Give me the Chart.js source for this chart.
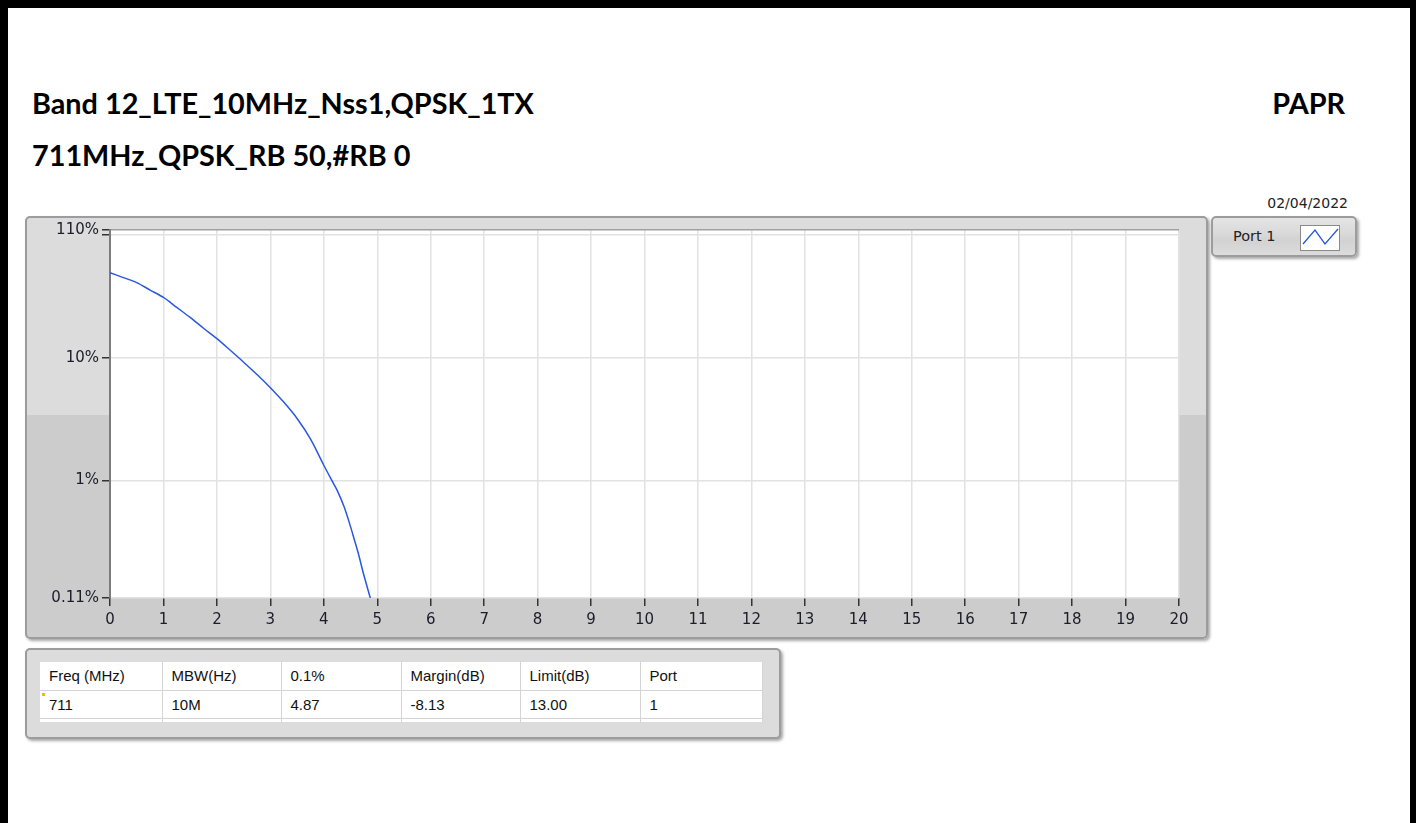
<!DOCTYPE html>
<html>
<head>
<meta charset="utf-8">
<script src="https://cdn.jsdelivr.net/npm/chart.js@4.4.0/dist/chart.umd.min.js"></script>
<style>
  body { margin: 0; background: #fff; width: 1416px; height: 823px; overflow: hidden; position: relative; }
  .edge { position: absolute; left: 0; top: 0; height: 823px; border-left: 8px solid #000; border-top: 8px solid #000; border-right: 6px solid #000; box-sizing: border-box; width: 1416px; }
  .title { position: absolute; left: 32px; font-family: Lato, sans-serif; font-weight: bold; font-size: 28.8px; color: #000; white-space: nowrap; line-height: 30px; }
  .date { position: absolute; right: 68px; top: 195px; font-family: "DejaVu Sans", sans-serif; font-size: 14px; color: #222; }
  .frame { position: absolute; border: 2px solid #9c9c9c; border-radius: 5px; box-shadow: 2px 2px 3px #a8a8a8; box-sizing: border-box; }
  #graph { left: 25px; top: 216px; width: 1183px; height: 423px;
           background: linear-gradient(to bottom, #dcdcdc 0, #dcdcdc 197px, #cccccc 197px, #cccccc 100%); }
  #graph .wrap { position: absolute; left: 0; top: 0; width: 1179px; height: 419px; }
  #legend { left: 1211px; top: 216px; width: 146px; height: 41px;
            background: linear-gradient(to bottom, #e4e4e4 0, #dadada 40%, #d2d2d2 60%, #dcdcdc 100%); }
  #legend .lab { position: absolute; left: 20px; top: 10px; font-family: "DejaVu Sans", sans-serif; font-size: 14.5px; color: #222; }
  #legend svg { position: absolute; left: 87px; top: 7px; }
  #tbox { left: 25px; top: 648px; width: 756px; height: 91px; background: #dcdcdc; }
  table { position: absolute; left: 13px; top: 12px; border-collapse: collapse; background: #fff; font-family: "Liberation Sans", sans-serif; font-size: 15px; color: #111; }
  td { height: 28px; padding: 0 0 0 9px; border-right: 1px solid #d4d4d4; border-bottom: 1px solid #d4d4d4; box-sizing: border-box; }
  tr.stub td { height: 4px; border-bottom: none; }
  .mark { position: absolute; left: 2px; top: 2px; width: 3px; height: 3px; background: #e8c000; }
</style>
</head>
<body>
<div class="edge"></div>
<div class="title" id="t1" style="top:88px"></div>
<div class="title" id="t2" style="top:140px"></div>
<div class="title" id="t3" style="top:88px; left:auto; right:71px"></div>
<div class="date" id="date"></div>

<div class="frame" id="graph"><div class="wrap"><canvas id="papr"></canvas></div></div>

<div class="frame" id="legend">
  <div class="lab" id="legLab"></div>
  <svg width="40" height="26"><rect x="0.5" y="0.5" width="39" height="25" fill="#fff" stroke="#8a8a8a"/>
    <polyline points="3,19 15,5 25,19 38,4" fill="none" stroke="#2858e0" stroke-width="1.3"/></svg>
</div>

<div class="frame" id="tbox"><table id="tbl"></table></div>

<script>
// titles
var title1 = "Band 12_LTE_10MHz_Nss1,QPSK_1TX";
var title2 = "711MHz_QPSK_RB 50,#RB 0";
var title3 = "PAPR";
var dateText = "02/04/2022";

// CCDF curve, Port 1 (x in dB, y in %)
var ccdfX = [0, 0.25, 0.5, 0.75, 1, 1.25, 1.5, 1.75, 2, 2.25, 2.5, 2.75, 3, 3.25, 3.5, 3.75, 4, 4.15, 4.25, 4.38, 4.5, 4.57, 4.65, 4.74, 4.87];
var ccdfY = [49.4, 45.0, 41.0, 35.6, 31.0, 25.7, 21.3, 17.4, 14.3, 11.5, 9.2, 7.3, 5.7, 4.35, 3.2, 2.18, 1.33, 1.0, 0.83, 0.61, 0.42, 0.33, 0.25, 0.175, 0.11];

// axes
var xTicks = [0, 1, 2, 3, 4, 5, 6, 7, 8, 9, 10, 11, 12, 13, 14, 15, 16, 17, 18, 19, 20];
var yTicks = [0.11, 1, 10, 100, 110];
var yTickLabels = ["0.11%", "1%", "10%", "", "110%"];

// result table
var tableHead = ["Freq (MHz)", "MBW(Hz)", "0.1%", "Margin(dB)", "Limit(dB)", "Port"];
var tableRow = ["711", "10M", "4.87", "-8.13", "13.00", "1"];
var colWidths = [122, 119, 120, 119, 120, 122];

document.getElementById("t1").textContent = title1;
document.getElementById("t2").textContent = title2;
document.getElementById("t3").textContent = title3;
document.getElementById("date").textContent = dateText;
document.getElementById("legLab").textContent = "Port 1";

// table
var tbl = document.getElementById("tbl");
function addRow(cells, cls) {
    var tr = document.createElement("tr");
    if (cls) tr.className = cls;
    cells.forEach(function (c, i) {
        var td = document.createElement("td");
        td.style.width = colWidths[i] + "px";
        td.textContent = c;
        tr.appendChild(td);
    });
    tbl.appendChild(tr);
    return tr;
}
addRow(tableHead);
var r = addRow(tableRow);
r.firstChild.style.position = "relative";
var mk = document.createElement("div");
mk.className = "mark";
r.firstChild.appendChild(mk);
addRow(["", "", "", "", "", ""], "stub");

// white plot area
var plotBg = {
    id: "plotBg",
    beforeDraw: function (chart) {
        var a = chart.chartArea;
        chart.ctx.save();
        chart.ctx.fillStyle = "#fff";
        chart.ctx.fillRect(a.left, a.top, a.right - a.left, a.bottom - a.top);
        chart.ctx.restore();
    }
};

var tickFont = { family: "DejaVu Sans", size: 15 };

new Chart("papr", {
    type: "line",
    data: {
        datasets: [
            {
                label: "Port 1",
                data: ccdfX.map(function (x, i) { return { x: x, y: ccdfY[i] }; }),
                borderColor: "#2858e0",
                borderWidth: 1.5,
                pointRadius: 0,
                tension: 0.3,
                fill: false,
            },
        ],
    },
    options: {
        responsive: true,
        maintainAspectRatio: false,
        animation: false,
        layout: { padding: { left: 0, top: 11, right: 27, bottom: 0 } },
        plugins: { legend: { display: false }, tooltip: { enabled: false } },
        scales: {
            x: {
                type: "linear",
                min: 0,
                max: 20,
                afterBuildTicks: function (s) { s.ticks = xTicks.map(function (v) { return { value: v }; }); },
                afterFit: function (s) { s.height = 39; },
                grid: { color: "#e2e2e2", lineWidth: 1.5, tickColor: "#333", tickLength: 8, tickWidth: 1.5 },
                border: { display: false },
                ticks: { color: "#1c1c2a", font: tickFont, padding: 5, maxRotation: 0, autoSkip: false },
            },
            y: {
                type: "logarithmic",
                min: 0.11,
                max: 110,
                afterBuildTicks: function (s) { s.ticks = yTicks.map(function (v) { return { value: v }; }); },
                afterFit: function (s) { s.width = 83; },
                grid: {
                    color: function (c) { return c.tick && c.tick.value === 110 ? "#a0a0a0" : "#e2e2e2"; },
                    lineWidth: 1.5,
                    tickColor: "#333",
                    tickLength: 8,
                    tickWidth: 1.5,
                },
                border: { color: "#7c7c7c", width: 2 },
                ticks: {
                    color: "#1c1c2a",
                    font: tickFont,
                    padding: 3,
                    autoSkip: false,
                    callback: function (v, i) { return yTickLabels[i]; },
                },
            },
        },
    },
    plugins: [plotBg],
});
</script>
</body>
</html>
